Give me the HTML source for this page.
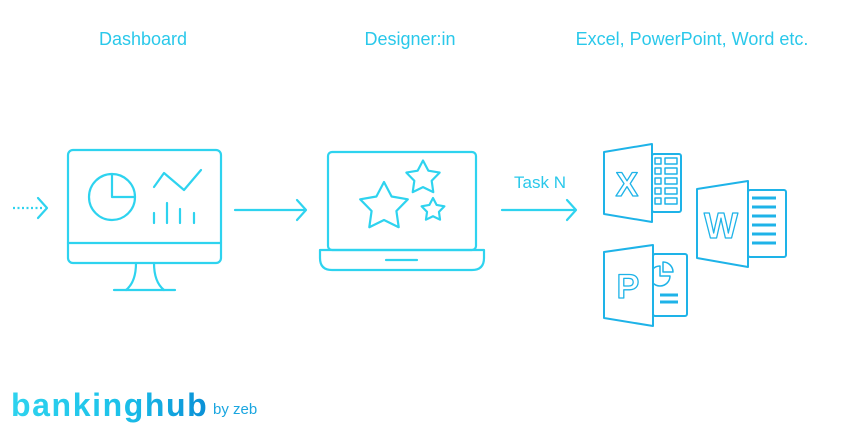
<!DOCTYPE html>
<html><head><style>
body{margin:0;background:#fff;width:862px;height:424px;overflow:hidden;font-family:"Liberation Sans",sans-serif}
</style></head><body>
<svg width="862" height="424" viewBox="0 0 862 424" xmlns="http://www.w3.org/2000/svg">
<defs><linearGradient id="g" x1="0" x2="1"><stop offset="0" stop-color="#2fd3ee"/><stop offset="0.55" stop-color="#1cc2ea"/><stop offset="1" stop-color="#0a8fd6"/></linearGradient>
<polygon id="st" points="0,-25 7.6,-10.5 23.8,-7.7 12.4,4 14.7,20.2 0,13 -14.7,20.2 -12.4,4 -23.8,-7.7 -7.6,-10.5"/></defs>
<g font-size="18" fill="#2ac8ea" text-anchor="middle">
<text x="143" y="45">Dashboard</text>
<text x="410" y="45">Designer:in</text>
<text x="692" y="45">Excel, PowerPoint, Word etc.</text>
<text x="540" y="188" font-size="17">Task N</text>
</g>
<g fill="none" stroke="#2ed3ef" stroke-width="2.2" stroke-linecap="round" stroke-linejoin="round">
<line x1="13" y1="208" x2="44" y2="208" stroke-dasharray="2 2.5" stroke-linecap="butt"/>
<polyline points="38,198 47,208 38,218"/>
<rect x="68" y="150" width="153" height="113" rx="5"/>
<line x1="68" y1="243" x2="221" y2="243"/>
<path d="M136 263 Q136 282 126 290 M154 263 Q154 282 164 290"/>
<line x1="114" y1="290" x2="175" y2="290"/>
<circle cx="112" cy="197" r="23"/>
<polyline points="112,174 112,197 135,197"/>
<polyline points="154,187 164,173 184,190 201,170"/>
<path d="M154 213V223M167 203V223M180 209V223M194 213V223"/>
<line x1="235" y1="210" x2="305" y2="210"/>
<polyline points="297,200 306,210 297,220"/>
<rect x="328" y="152" width="148" height="98" rx="4"/>
<path d="M320 250H484V258Q484 270 472 270H332Q320 270 320 258Z"/>
<line x1="386" y1="260" x2="417" y2="260"/>
<use href="#st" transform="translate(384,207)"/>
<use href="#st" transform="translate(423,178) scale(0.7)" stroke-width="3.1"/>
<use href="#st" transform="translate(433,210) scale(0.48)" stroke-width="4.5"/>
<line x1="502" y1="210" x2="575" y2="210"/>
<polyline points="567,200 576,210 567,220"/>
</g>
<g fill="none" stroke="#1eb3e8" stroke-width="2" stroke-linejoin="round">
<rect x="652" y="154" width="29" height="58" rx="2"/>
<path d="M655 158h6v6h-6zM665 158h12v6h-12zM655 168h6v6h-6zM665 168h12v6h-12zM655 178h6v6h-6zM665 178h12v6h-12zM655 188h6v6h-6zM665 188h12v6h-12zM655 198h6v6h-6zM665 198h12v6h-12z" stroke-width="1.5"/>
<polygon points="604,152 652,144 652,222 604,214" fill="#fff"/>
<text x="627" y="196" font-size="34" font-weight="bold" text-anchor="middle" stroke-width="1.3" fill="#fff" font-family="Liberation Sans">X</text>
<rect x="748" y="190" width="38" height="67" rx="2"/>
<path d="M752 198h24M752 207h24M752 216h24M752 225h24M752 234h24M752 243h24" stroke-width="3"/>
<polygon points="697,189 748,181 748,267 697,258" fill="#fff"/>
<text x="721" y="238" font-size="36" font-weight="bold" text-anchor="middle" stroke-width="1.3" fill="#fff" font-family="Liberation Sans">W</text>
<rect x="653" y="254" width="34" height="62" rx="2"/>
<path d="M660 266a10 10 0 1 0 10 10h-10z M663 262v10h10a10 10 0 0 0 -10 -10z" stroke-width="1.5"/>
<path d="M660 295h18M660 302h18" stroke-width="3"/>
<polygon points="604,252 653,245 653,326 604,318" fill="#fff"/>
<text x="628" y="298" font-size="34" font-weight="bold" text-anchor="middle" stroke-width="1.3" fill="#fff" font-family="Liberation Sans">P</text>
</g>
<text x="11" y="416" font-size="32" font-weight="bold" fill="url(#g)" letter-spacing="1.6" font-family="Liberation Sans">bankinghub</text>
<text x="213" y="414" font-size="15" fill="#1aa6e0">by zeb</text>
</svg>
</body></html>
